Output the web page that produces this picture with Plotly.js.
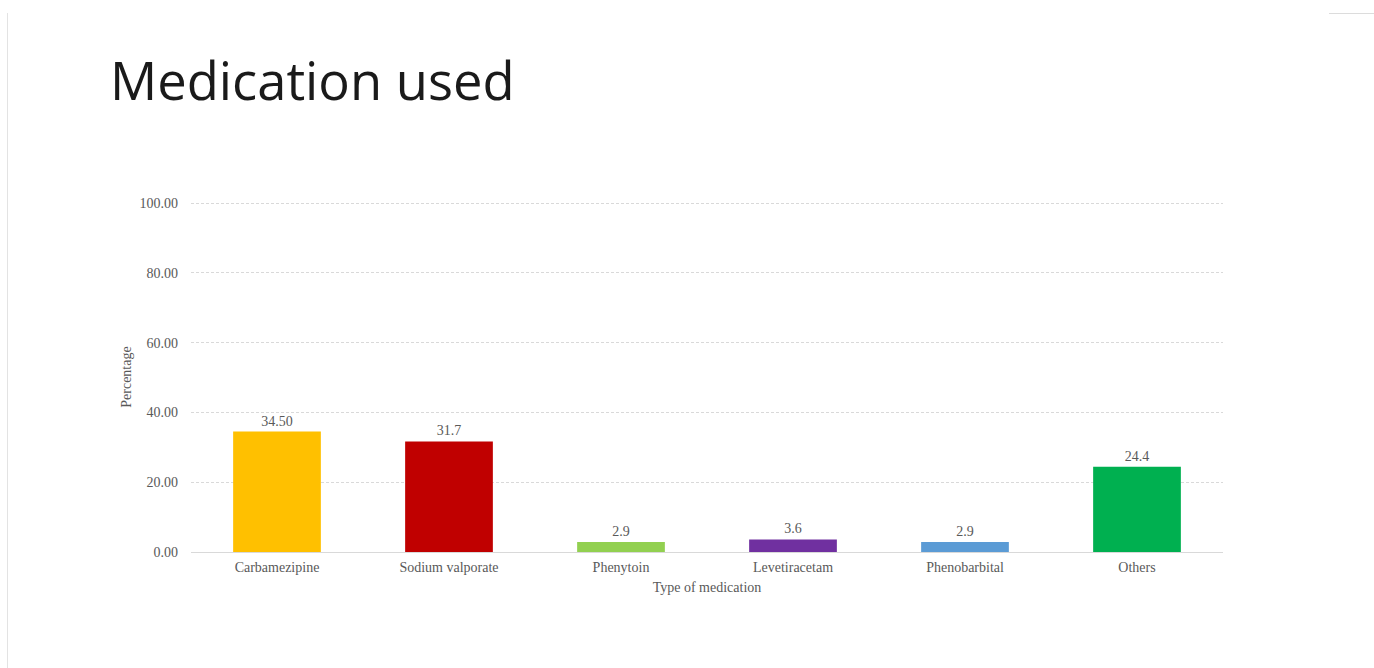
<!DOCTYPE html>
<html>
<head>
<meta charset="utf-8">
<script src="https://cdn.plot.ly/plotly-3.0.1.min.js"></script>
<style>
  html, body { margin: 0; padding: 0; background: #fff; }
  #chart { width: 1374px; height: 668px; }
  .frame-left { position: absolute; left: 7px; top: 13px; width: 1px; height: 655px; background: #e3e3e3; }
  .frame-top { position: absolute; left: 1329px; top: 13px; width: 45px; height: 1px; background: #dcdcdc; }
</style>
</head>
<body>
<div id="chart"></div>
<div class="frame-left"></div>
<div class="frame-top"></div>
<script>
const categories = ["Carbamezipine", "Sodium valporate", "Phenytoin", "Levetiracetam", "Phenobarbital", "Others"];
const percentages = [34.50, 31.7, 2.9, 3.6, 2.9, 24.4];
const valueLabels = ["34.50", "31.7", "2.9", "3.6", "2.9", "24.4"];
const barColors = ["#FFC000", "#C00000", "#92D050", "#7030A0", "#5B9BD5", "#00B050"];
const yTickValues = [0, 20, 40, 60, 80, 100];

const serif = "Liberation Serif, Times New Roman, serif";
const grey = "#595959";

const trace = {
  type: "bar",
  x: categories,
  y: percentages,
  text: valueLabels,
  textposition: "outside",
  cliponaxis: false,
  textfont: { family: serif, size: 14, color: grey },
  marker: { color: barColors, line: { width: 0 } },
  hoverinfo: "x+y"
};

const layout = {
  width: 1374,
  height: 668,
  paper_bgcolor: "#ffffff",
  plot_bgcolor: "#ffffff",
  margin: { l: 191, r: 151, t: 202, b: 116 },
  bargap: 0.49,
  showlegend: false,
  title: {
    text: "Medication used",
    xref: "container", yref: "container",
    x: 110 / 1374, xanchor: "left",
    y: 1 - 82 / 668, yanchor: "middle",
    font: { family: "Open Sans, sans-serif", size: 52.5, color: "#1a1a1a", weight: 400 }
  },
  xaxis: {
    type: "category",
    showgrid: false,
    showline: true,
    linecolor: "#d9d9d9",
    linewidth: 1,
    ticks: "",
    ticklabelstandoff: 2,
    tickfont: { family: serif, size: 14, color: grey },
    title: { text: "Type of medication", font: { family: serif, size: 14, color: grey }, standoff: 8 }
  },
  yaxis: {
    range: [0, 100.3],
    tickvals: yTickValues,
    tickformat: ".2f",
    showgrid: true,
    gridcolor: "#d9d9d9",
    griddash: "3px,2px",
    gridwidth: 1,
    zeroline: false,
    showline: false,
    ticks: "",
    ticklabelstandoff: 12,
    tickfont: { family: serif, size: 14, color: grey },
    title: { text: "Percentage", font: { family: serif, size: 14, color: grey }, standoff: 4 }
  }
};

Plotly.newPlot("chart", [trace], layout, { displayModeBar: false, staticPlot: true });
</script>
</body>
</html>
